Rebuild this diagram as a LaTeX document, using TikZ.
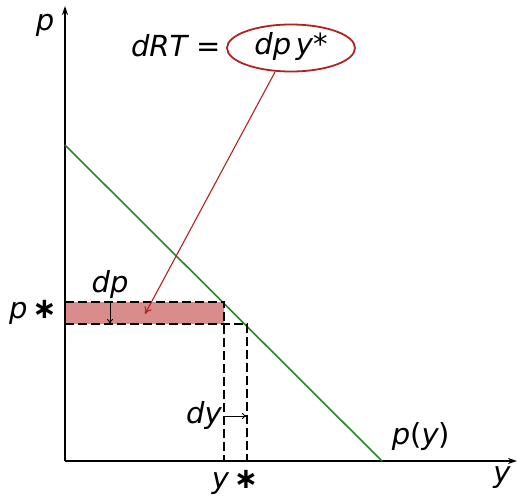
\documentclass[tikz,border=0pt]{standalone}
\usepackage{fontspec}
\setmainfont{DejaVu Sans}
\usetikzlibrary{arrows.meta,shapes.geometric}
\definecolor{fillred}{RGB}{216,140,140}
\definecolor{arrred}{RGB}{178,34,34}
\definecolor{lgreen}{RGB}{34,139,34}
\newcommand{\astop}{{\bfseries ∗}}
\begin{document}
\begin{tikzpicture}[x=1pt,y=-1pt,
  lbl/.style={inner sep=0pt,font=\fontsize{29}{34}\selectfont},
  axis/.style={line width=2pt,-{Stealth[length=9pt,width=6pt]}},
  dsh/.style={line width=1.2pt,dash pattern=on 9pt off 4pt},
  small/.style={line width=0.9pt,-{To[length=5pt,width=6pt]}}]
\useasboundingbox (0,0) rectangle (518,496);
% filled band
\fill[fillred] (65,302) rectangle (224,324);
% axes
\coordinate (O) at (65,461);
\coordinate (ytop) at (65,6);
\coordinate (xend) at (517,461);
\draw[axis] (O) -- (ytop);
\draw[axis] (O) -- (xend);
% demand line
\coordinate (dA) at (65,145);
\coordinate (dB) at (382,461);
\draw[lgreen,line width=1.6pt] (dA) -- (dB);
% dashed lines
\coordinate (t1) at (65,302); \coordinate (t2) at (224,302);
\coordinate (b1) at (65,324); \coordinate (b2) at (247,324);
\coordinate (v1) at (224,461); \coordinate (v2) at (247,461);
\draw[dsh] (t1) -- (t2) -- (v1);
\draw[dsh] (b1) -- (b2) -- (v2);
% dp and dy arrows
\coordinate (dpa) at (110,302); \coordinate (dpb) at (110,324);
\draw[small] (dpa) -- (dpb);
\coordinate (dya) at (224,416); \coordinate (dyb) at (247,416);
\draw[small] (dya) -- (dyb);
% labels
\node[lbl] (lp) at (45,25) {\itshape p};
\node[lbl] (ly) at (502,478) {\itshape y};
\node[lbl] (lpstar) at (33,312) {\itshape p\,\astop};
\node[lbl] (lystar) at (235,482) {\itshape y\,\astop};
\node[lbl] (ldp) at (110,284) {\itshape dp};
\node[lbl] (ldy) at (204,415) {\itshape dy};
\node[lbl] (lpy) at (421,437) {\itshape p\upshape(\itshape y\upshape)};
\node[lbl,anchor=east] (ldrt) at (221,46) {\itshape dRT \upshape=};
\node[lbl] (lexp) at (291,46) {\itshape dp\,y*};
\node[draw=arrred,line width=1.8pt,ellipse,minimum width=128pt,minimum height=47pt] (ell) at (291,48) {};
% red arrow
\coordinate (tip) at (145,314);
\draw[arrred,line width=1.1pt,-{To[length=7pt,width=8pt]}] (275,72) -- (tip);
\end{tikzpicture}
\end{document}
